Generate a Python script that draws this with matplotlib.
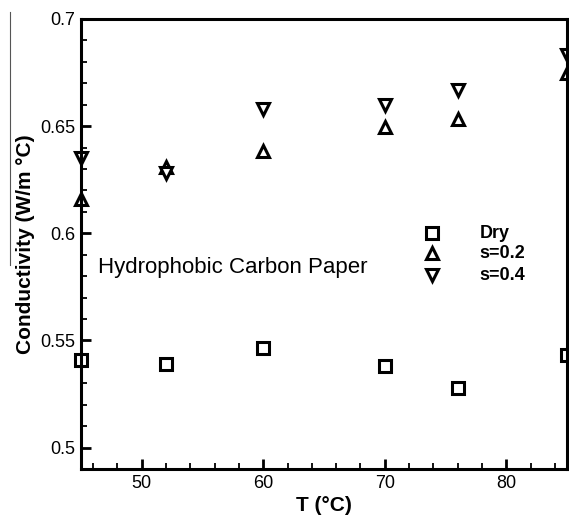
import matplotlib
matplotlib.use("Agg")
import matplotlib.pyplot as plt
from matplotlib.lines import Line2D
from matplotlib.ticker import MultipleLocator

plt.rcParams['font.family'] = ['Liberation Sans', 'DejaVu Sans']

# temperatures (°C)
T = [45, 52, 60, 70, 76, 85]
# thermal conductivity (W/m °C)
k_dry = [0.541, 0.539, 0.5465, 0.538, 0.528, 0.543]
k_s02 = [0.616, 0.631, 0.6385, 0.6497, 0.6534, 0.675]
k_s04 = [0.635, 0.628, 0.658, 0.660, 0.667, 0.683]
labels = ["Dry", "s=0.2", "s=0.4"]

fig = plt.figure(figsize=(5.69, 5.19), dpi=100)
ax = fig.add_axes([0.1424, 0.0963, 0.8541, 0.8671])

mk = dict(mfc='white', mec='black', mew=2.2, ms=9, ls='none', clip_on=False)
ax.plot(T, k_dry, marker='s', **mk)
ax.plot(T, k_s02, marker='^', **mk)
ax.plot(T, k_s04, marker='v', **mk)

ax.set_xlim(45, 85)
ax.set_ylim(0.49, 0.7)
ax.xaxis.set_major_locator(MultipleLocator(10))
ax.xaxis.set_minor_locator(MultipleLocator(2))
ax.yaxis.set_major_locator(MultipleLocator(0.05))
ax.yaxis.set_minor_locator(MultipleLocator(0.01))
ax.yaxis.set_major_formatter(plt.FuncFormatter(lambda v, p: ('%.2f' % v).rstrip('0').rstrip('.')))

for s in ax.spines.values():
    s.set_linewidth(2.2)
ax.tick_params(which='major', direction='in', length=7.5, width=2, labelsize=13, pad=4)
ax.tick_params(which='minor', direction='in', length=4.5, width=1.3)

ax.set_xlabel('T (°C)', fontsize=15, fontweight='bold', labelpad=3)
ax.set_ylabel('Conductivity (W/m °C)', fontsize=15, fontweight='bold', labelpad=4)

ax.text(0.035, 0.447, 'Hydrophobic Carbon Paper', transform=ax.transAxes,
        fontsize=16, va='center', ha='left')

# legend drawn manually like the original
leg_y = [0.524, 0.48, 0.431]
leg_m = ['s', '^', 'v']
for yy, m, lab in zip(leg_y, leg_m, labels):
    ax.plot([0.722], [yy], marker=m, transform=ax.transAxes, **mk)
    ax.text(0.82, yy, lab, transform=ax.transAxes, fontsize=13,
            fontweight='bold', va='center', ha='left')

# thin scan line at the left edge
fig.add_artist(Line2D([10/569, 10/569], [1 - 12/519, 1 - 265/519],
                      color='#555555', lw=0.8))

fig.savefig('out.png', dpi=100)
